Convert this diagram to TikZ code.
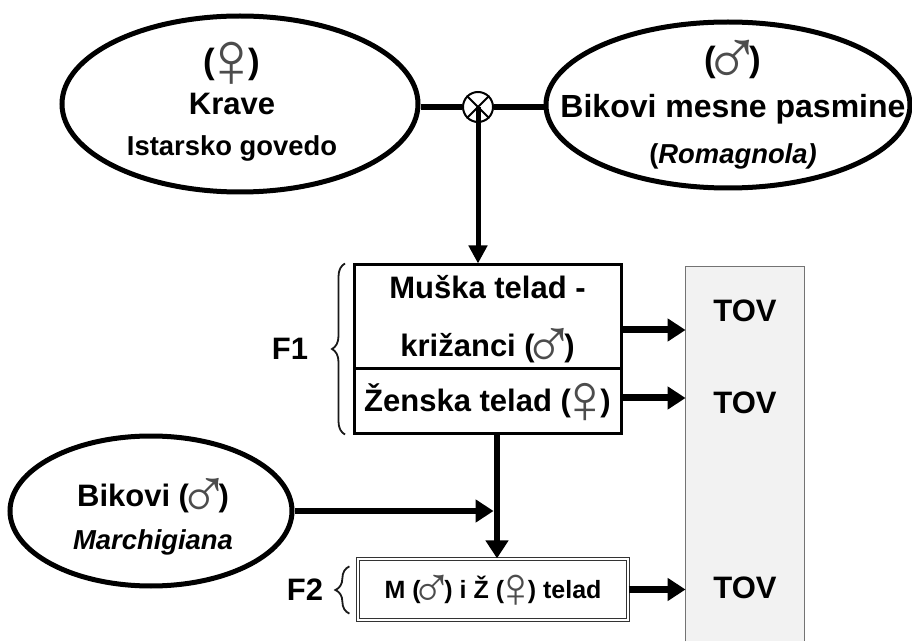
\documentclass[tikz,border=0pt]{standalone}
\usepackage{fontspec}
\setmainfont{Liberation Sans}
\newfontfamily\symfont[Scale=2.3]{Liberation Sans}
\usetikzlibrary{arrows.meta,positioning,shapes.geometric,decorations.pathreplacing}

\newcommand{\venussym}{\smash{\raisebox{-0.38em}{\makebox[0.95em]{\mdseries\symfont\color{black!70}♀}}}}
\newcommand{\marssym}{\smash{\raisebox{-0.38em}{\makebox[0.95em]{\mdseries\symfont\color{black!70}♂}}}}

\begin{document}
\begin{tikzpicture}[
  x=0.5pt, y=-0.5pt,
  oval/.style={ellipse, draw, line width=2.5pt, inner sep=0pt},
  txt/.style={align=center, inner sep=0pt, font=\bfseries\fontsize{15.5}{20.5}\selectfont},
  box/.style={rectangle, draw, line width=1.5pt, inner sep=0pt, align=center,
              minimum width=133.5pt, font=\bfseries\fontsize{15.5}{29}\selectfont},
  tovbox/.style={rectangle, fill=black!5, inner sep=0pt},
  tovline/.style={draw=black!55, line width=0.7pt},
  lbl/.style={inner sep=0pt, font=\bfseries\fontsize{15.5}{18}\selectfont},
  crossline/.style={line width=3pt},
  feed/.style={line width=2.5pt, -{Triangle[length=9pt,width=9pt]}},
  outarrow/.style={line width=3.5pt, -{Triangle[length=9pt,width=11pt]}},
  grpbrace/.style={decorate, line width=0.9pt, draw=black!90}
]
\useasboundingbox (0,0) rectangle (912,642);

% Parents
\node[oval, minimum width=178pt, minimum height=88pt] (krave) at (240,104) {};
\node[txt] (kraveTxt) at (232,105) {{\fontsize{17.5}{20.5}\selectfont(\venussym)}\\Krave\\{\fontsize{13.7}{20.5}\selectfont Istarsko govedo}};

\node[oval, minimum width=182pt, minimum height=83pt] (bikm) at (728,105) {};
\node[txt, font=\bfseries\fontsize{16}{23}\selectfont] (bikmTxt) at (733,108) {{\fontsize{17.5}{23}\selectfont(\marssym)}\\Bikovi mesne pasmine\\{\fontsize{13.7}{23}\selectfont(\textit{Romagnola)}}};

\node[circle, draw, line width=1pt, minimum size=15pt, inner sep=0pt] (cross) at (478,107) {};
\draw[line width=1pt] (cross.north west) -- (cross.south east) (cross.north east) -- (cross.south west);
\draw[crossline] (cross.west) -- (cross.west -| krave.east);
\draw[crossline] (cross.east) -- (cross.east -| bikm.west);

% F1
\node[box, minimum height=52pt] (muska) at (487.5,317) {\rule{0pt}{14pt}Muška telad -\\križanci (\marssym)};
\node[box, minimum height=32pt, below=-1.5pt of muska] (zenska) {Ženska telad (\venussym)};
\draw[feed] (cross.center) -- (cross |- muska.north);

\draw[grpbrace, decoration={brace, amplitude=6.5pt}] ([xshift=-3.75pt]zenska.south west) -- ([xshift=-3.75pt]muska.north west);
\node[lbl] (f1) at (290,349) {F1};

% TOV column
\node[tovbox, minimum width=59pt, minimum height=187pt] (tovbox) at (745,454) {};
\draw[tovline] (tovbox.south west) |- (tovbox.north east) -- (tovbox.south east);
\node[lbl] (tov1) at (745,311) {TOV};
\node[lbl] (tov2) at (745,403) {TOV};
\node[lbl] (tov3) at (745,588) {TOV};

\draw[outarrow] ([yshift=-6.5pt]muska.east) -- ([yshift=-6.5pt]muska.east -| tovbox.west);
\draw[outarrow] ([yshift=1.5pt]zenska.east) -- ([yshift=1.5pt]zenska.east -| tovbox.west);

% Backcross
\node[oval, minimum width=141pt, minimum height=75pt] (marchi) at (151,511) {};
\node[txt, font=\bfseries\fontsize{15.5}{21.5}\selectfont] (marchiTxt) at (153,520) {Bikovi (\marssym)\\{\fontsize{13.7}{21.5}\selectfont\itshape Marchigiana}};

% F2
\node[box, draw=black!80, line width=0.6pt, double, double distance=1.2pt, minimum width=135pt, minimum height=30.5pt,
      font=\bfseries\fontsize{12.5}{15}\selectfont] (f2) at (493,589.5) {M (\marssym) i Ž (\venussym) telad};
\coordinate (split) at (497,511);
\draw[outarrow, line width=3.3pt] (zenska.south -| split) -- (f2.north -| split);
\draw[outarrow, line width=3.3pt, shorten >=1.7pt] (marchi.east |- split) -- (split);
\draw[outarrow] (f2.east) -- (f2.east -| tovbox.west);

\draw[grpbrace, decoration={brace, amplitude=7pt}] ([xshift=-4pt,yshift=3.5pt]f2.south west) -- ([xshift=-4pt,yshift=-4pt]f2.north west);
\node[lbl] (f2lbl) at (305,590) {F2};

\end{tikzpicture}
\end{document}
